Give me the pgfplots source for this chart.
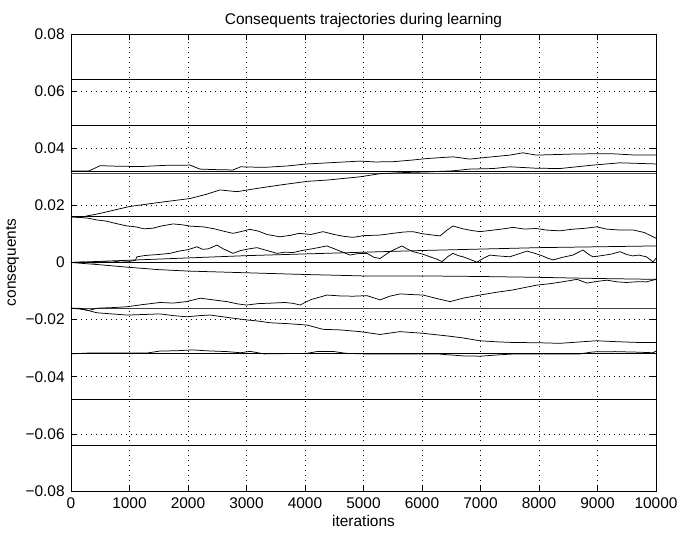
\documentclass[border=0pt]{standalone}
\usepackage{fontspec}
\setmainfont{Liberation Sans}
\usepackage{pgfplots}
\pgfplotsset{compat=1.18}

\begin{document}
\fontsize{15.5}{18}\selectfont
\begin{tikzpicture}
\begin{axis}[
  scale only axis,
  width=585bp, height=457bp,
  xmin=0, xmax=10000, ymin=-0.08, ymax=0.08,
  xtick={0,1000,...,10000},
  xticklabels={0,1000,2000,3000,4000,5000,6000,7000,8000,9000,10000},
  ytick={-0.08,-0.06,-0.04,-0.02,0,0.02,0.04,0.06,0.08},
  yticklabels={−0.08,−0.06,−0.04,−0.02,0,0.02,0.04,0.06,0.08},
  scaled x ticks=false, scaled y ticks=false,
  tick align=inside, major tick length=6bp,
  xtick pos=both, ytick pos=both,
  tick style={black, line width=0.5pt},
  axis line style={black, line width=0.6pt},
  grid=major,
  grid style={black, line width=0.5pt, dash pattern=on 0.7pt off 4.3pt},
  xticklabel style={yshift=-1bp},
  yticklabel style={xshift=-1bp},
  title={Consequents trajectories during learning},
  title style={yshift=-5bp},
  xlabel={iterations},
  ylabel={consequents},
  xlabel style={yshift=3bp},
  ylabel style={yshift=-4bp},
  cycle list={{black, solid, no markers}},
  every axis plot/.append style={line width=0.75pt, line join=round},
]
% reference levels
\addplot[line width=0.6pt] coordinates {(0,0.064)(10000,0.064)};
\addplot[line width=1.1pt] coordinates {(0,0.048)(10000,0.048)};
\addplot[line width=0.8pt] coordinates {(0,0.032)(10000,0.032)};
\addplot[black!70, line width=0.6pt] coordinates {(0,0.0312)(10000,0.0312)};
\addplot[line width=0.9pt] coordinates {(0,0.016)(10000,0.016)};
\addplot[line width=0.9pt] coordinates {(0,0)(10000,0)};
\addplot[black!75, line width=0.8pt] coordinates {(0,-0.016)(10000,-0.016)};
\addplot[line width=1.1pt] coordinates {(0,-0.032)(10000,-0.032)};
\addplot[line width=0.8pt] coordinates {(0,-0.048)(10000,-0.048)};
\addplot[line width=0.6pt] coordinates {(0,-0.064)(10000,-0.064)};

% trajectories
\addplot coordinates {(0,0.032)(300,0.032)(500,0.0339)(800,0.0337)(1200,0.0336)(1600,0.034)(2034,0.0341)(2205,0.0327)(2500,0.0325)(2770,0.0324)(2900,0.0335)(3300,0.0333)(3700,0.0338)(4034,0.0345)(4400,0.0349)(4940,0.0355)(5200,0.0352)(5504,0.0353)(5800,0.0358)(6085,0.0364)(6530,0.037)(6815,0.0362)(7150,0.0369)(7504,0.0376)(7726,0.0384)(7955,0.0376)(8300,0.0378)(8650,0.038)(9225,0.0381)(9660,0.0376)(10000,0.0376)};

\addplot coordinates {(0,0.016)(150,0.0158)(500,0.0172)(1000,0.0196)(1500,0.021)(2034,0.0224)(2300,0.0238)(2547,0.0254)(2838,0.0248)(3200,0.026)(3600,0.0272)(4034,0.0284)(4400,0.0289)(4940,0.030)(5282,0.0311)(5700,0.0315)(6085,0.0317)(6530,0.0321)(6815,0.0327)(7220,0.0329)(7504,0.0335)(7955,0.033)(8360,0.0329)(8923,0.0341)(9385,0.0349)(10000,0.0345)};

\addplot coordinates {(0,0.016)(150,0.0158)(300,0.0155)(440,0.0149)(600,0.0145)(800,0.0135)(957,0.0128)(1100,0.0125)(1250,0.0118)(1400,0.012)(1550,0.0128)(1744,0.0135)(1900,0.0132)(2050,0.0127)(2256,0.0125)(2450,0.0118)(2600,0.011)(2770,0.0102)(2900,0.0108)(3060,0.0116)(3200,0.011)(3350,0.0098)(3573,0.009)(3750,0.0095)(3900,0.0102)(4100,0.0098)(4308,0.0108)(4500,0.0098)(4650,0.0092)(4820,0.0088)(5000,0.0094)(5282,0.0096)(5500,0.0102)(5700,0.0107)(5846,0.0108)(6000,0.0101)(6150,0.0097)(6308,0.0093)(6420,0.0112)(6530,0.0128)(6700,0.0118)(6850,0.0112)(6990,0.0108)(7200,0.0113)(7400,0.0118)(7556,0.0123)(7750,0.0117)(7950,0.0119)(8150,0.0113)(8360,0.0111)(8550,0.0116)(8800,0.012)(8990,0.0125)(9150,0.0117)(9350,0.0114)(9607,0.0114)(9800,0.0105)(9950,0.009)(10000,0.0085)};

\addplot coordinates {(0,0)(200,0.0002)(400,-0.0002)(550,0.0003)(700,0.0001)(850,0.0006)(1000,0.0004)(1100,0.0008)(1128,0.002)(1250,0.0024)(1350,0.0026)(1500,0.0028)(1692,0.0032)(1850,0.004)(2000,0.0045)(2154,0.0055)(2250,0.0046)(2350,0.0048)(2496,0.0061)(2600,0.0048)(2770,0.0032)(2900,0.0042)(3050,0.0048)(3180,0.0052)(3350,0.0042)(3521,0.0032)(3650,0.0036)(3800,0.0035)(3950,0.0042)(4150,0.0049)(4376,0.0058)(4550,0.0044)(4769,0.0026)(4900,0.0031)(5060,0.0032)(5180,0.0018)(5282,0.0014)(5453,0.0038)(5658,0.0058)(5750,0.0047)(5846,0.0038)(6000,0.003)(6137,0.002)(6250,0.0012)(6342,0.0003)(6450,0.0022)(6530,0.0032)(6620,0.0024)(6700,0.002)(6820,0.0011)(6940,0.0001)(7050,0.0015)(7162,0.0026)(7300,0.0023)(7500,0.002)(7650,0.003)(7795,0.004)(7930,0.0032)(8060,0.0023)(8150,0.0015)(8240,0.0009)(8400,0.0018)(8580,0.0026)(8752,0.0044)(8850,0.0028)(8923,0.002)(9100,0.0025)(9250,0.003)(9385,0.0038)(9500,0.0028)(9600,0.0023)(9700,0.0026)(9835,0.002)(9950,0.0002)(10000,0.0015)};

\addplot coordinates {(0,0)(500,0.0004)(1000,0.0008)(2000,0.0016)(3000,0.0024)(4000,0.003)(5000,0.0036)(6000,0.0042)(7000,0.0047)(8000,0.0052)(9000,0.0055)(10000,0.0058)};

\addplot coordinates {(0,0)(500,-0.0008)(1000,-0.0017)(1500,-0.0025)(2000,-0.003)(3000,-0.0036)(4000,-0.0042)(5000,-0.0047)(6000,-0.0047)(7000,-0.0049)(8000,-0.0052)(9000,-0.0056)(10000,-0.0059)};

\addplot coordinates {(0,-0.016)(150,-0.0163)(300,-0.0168)(450,-0.016)(700,-0.0158)(957,-0.0155)(1200,-0.0148)(1521,-0.014)(1750,-0.0142)(1974,-0.0137)(2205,-0.0125)(2400,-0.013)(2667,-0.0137)(2850,-0.0145)(3000,-0.0149)(3200,-0.0144)(3450,-0.0142)(3650,-0.014)(3800,-0.0143)(3915,-0.0149)(4100,-0.013)(4376,-0.0114)(4600,-0.0117)(4820,-0.0118)(5060,-0.0116)(5282,-0.0131)(5450,-0.0118)(5624,-0.011)(5800,-0.0112)(6020,-0.0114)(6250,-0.0126)(6479,-0.0137)(6700,-0.0125)(6990,-0.0114)(7250,-0.0105)(7556,-0.0096)(7750,-0.0088)(7966,-0.0079)(8200,-0.0074)(8450,-0.0066)(8650,-0.0059)(8820,-0.0072)(9000,-0.0066)(9160,-0.0062)(9350,-0.0068)(9500,-0.007)(9700,-0.0067)(9835,-0.0068)(10000,-0.0059)};

\addplot coordinates {(0,-0.016)(150,-0.016)(440,-0.0176)(700,-0.018)(957,-0.0184)(1250,-0.0182)(1521,-0.018)(1750,-0.0186)(1983,-0.019)(2200,-0.0186)(2376,-0.0184)(2700,-0.0193)(3000,-0.0201)(3200,-0.0205)(3400,-0.0211)(3700,-0.0214)(4034,-0.0219)(4308,-0.0234)(4600,-0.0236)(4940,-0.0242)(5282,-0.0252)(5624,-0.0242)(6020,-0.0248)(6427,-0.0257)(6700,-0.0264)(6990,-0.0274)(7300,-0.0278)(7556,-0.028)(8000,-0.0281)(8360,-0.0283)(8700,-0.0278)(8990,-0.0274)(9300,-0.0277)(9700,-0.028)(10000,-0.028)};

\addplot coordinates {(0,-0.032)(300,-0.0317)(1300,-0.0317)(1521,-0.031)(1800,-0.0309)(2085,-0.0306)(2300,-0.0309)(2667,-0.0312)(2900,-0.0316)(3060,-0.0311)(3300,-0.032)(4034,-0.0318)(4200,-0.0312)(4500,-0.0312)(4700,-0.0318)(5000,-0.032)(6256,-0.032)(6700,-0.0327)(7000,-0.0328)(7333,-0.0323)(7600,-0.032)(8700,-0.032)(8923,-0.0313)(9300,-0.0312)(9700,-0.0314)(9950,-0.0316)(10000,-0.031)};
\end{axis}
\path (current axis.south west) ++(-71bp,-46bp);
\path (current axis.north east) ++(35bp,34bp);
\end{tikzpicture}
\end{document}
